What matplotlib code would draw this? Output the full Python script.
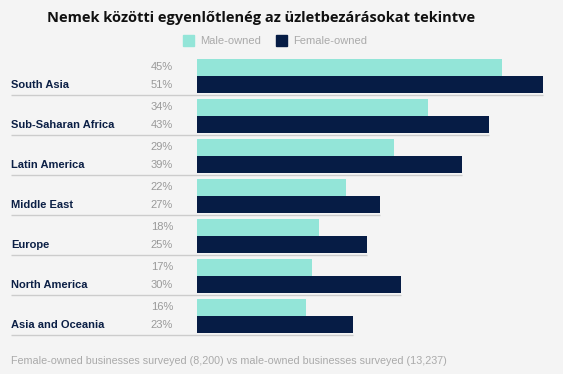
import numpy as np
import matplotlib.pyplot as plt
from matplotlib.patches import Rectangle

regions = ["South Asia", "Sub-Saharan Africa", "Latin America", "Middle East",
           "Europe", "North America", "Asia and Oceania"]
male = [45, 34, 29, 22, 18, 17, 16]
female = [51, 43, 39, 27, 25, 30, 23]

male_color = "#93e5d8"
female_color = "#061c45"
bg = "#f4f4f4"

W, H = 563, 374
fig = plt.figure(figsize=(W / 100, H / 100), dpi=100, facecolor=bg)

# axes placed in pixel terms: x=0 at 197px, x=51 at 543px; rows of 40px from y=55
x0, x1 = 197, 543
top, bottom = 55, 335
ax = fig.add_axes([x0 / W, 1 - bottom / H, (x1 - x0) / W, (bottom - top) / H])
ax.set_facecolor(bg)
ax.set_xlim(0, 51)
ax.set_ylim(len(regions), 0)
ax.axis("off")

px_per_unit = (x1 - x0) / 51
x_left = -(x0 - 11) / px_per_unit
x_pct = -(x0 - 173) / px_per_unit

bh = 0.425
y = np.arange(len(regions))
ax.barh(y + 0.3125, male, height=bh, color=male_color)
ax.barh(y + 0.7375, female, height=bh, color=female_color)

for i, r in enumerate(regions):
    ax.text(x_left, i + 0.74, r, ha="left", va="center", fontsize=8,
            fontweight="bold", color="#0b1f45", family="Liberation Sans", clip_on=False)
    ax.text(x_pct, i + 0.30, f"{male[i]}%", ha="right", va="center", fontsize=8,
            color="#999999", family="Liberation Sans", clip_on=False)
    ax.text(x_pct, i + 0.74, f"{female[i]}%", ha="right", va="center", fontsize=8,
            color="#999999", family="Liberation Sans", clip_on=False)
    ax.plot([x_left, max(male[i], female[i])], [i + 1, i + 1], color="#cccccc",
            lw=1, clip_on=False, solid_capstyle="butt")

fig.text(261 / W, 1 - 18 / H, "Nemek közötti egyenlőtlenég az üzletbezárásokat tekintve",
         ha="center", va="center", fontsize=10.5, fontweight="bold", color="#111111",
         family="Open Sans")

# legend
for sx, label, col in [(183, "Male-owned", male_color), (276, "Female-owned", female_color)]:
    fig.patches.append(Rectangle((sx / W, 1 - 46 / H), 11 / W, 11 / H,
                                 transform=fig.transFigure, color=col))
    fig.text((sx + 17) / W, 1 - 40.5 / H, label, ha="left", va="center",
             fontsize=8, color="#aaaaaa", family="Liberation Sans")

fig.text(11 / W, 1 - 361 / H,
         "Female-owned businesses surveyed (8,200) vs male-owned businesses surveyed (13,237)",
         ha="left", va="center", fontsize=7.75, color="#aaaaaa", family="Liberation Sans")

fig.savefig("out.png", dpi=100, facecolor=bg)
